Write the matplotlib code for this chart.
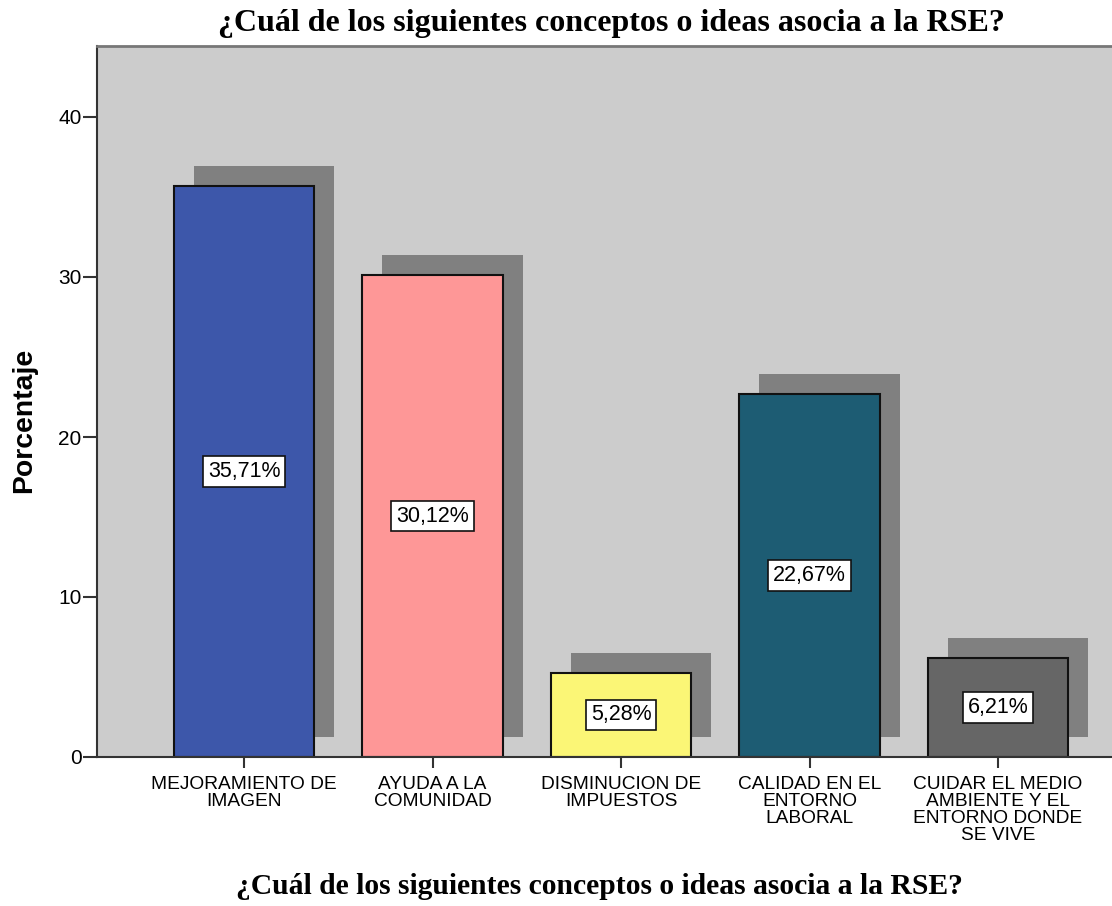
import matplotlib
matplotlib.use("Agg")
import matplotlib.pyplot as plt
from matplotlib.patches import Rectangle

categories = ["MEJORAMIENTO DE\nIMAGEN", "AYUDA A LA\nCOMUNIDAD", "DISMINUCION DE\nIMPUESTOS",
              "CALIDAD EN EL\nENTORNO\nLABORAL", "CUIDAR EL MEDIO\nAMBIENTE Y EL\nENTORNO DONDE\nSE VIVE"]
values = [35.71, 30.12, 5.28, 22.67, 6.21]
labels = ["35,71%", "30,12%", "5,28%", "22,67%", "6,21%"]
colors = ["#3D57AA", "#FE9797", "#FBF676", "#1D5C73", "#666666"]
yticks = [0, 10, 20, 30, 40]
title = "¿Cuál de los siguientes conceptos o ideas asocia a la RSE?"

fig = plt.figure(figsize=(11.12, 9.06), dpi=100)
ax = fig.add_axes([97/1112, 1-757/906, 1-97/1112, (757-46)/906])
ax.set_facecolor("#CCCCCC")

x = list(range(len(values)))
w = 0.748
dx = 20/188.5
dy = 20/16.0
for xi, v in zip(x, values):
    ax.add_patch(Rectangle((xi - w/2 + dx, dy), w, v, facecolor="#808080", edgecolor="none", zorder=1))
ax.bar(x, values, width=w, color=colors, edgecolor="#111111", linewidth=1.5, zorder=2)
for xi, v, lab in zip(x, values, labels):
    ax.text(xi, v/2, lab, ha="center", va="center", fontsize=15.5, family="Liberation Sans", zorder=3,
            bbox=dict(boxstyle="square,pad=0.22", facecolor="white", edgecolor="#111111", linewidth=1.2))

ax.set_xlim(-(244-97)/188.5, (1112-244)/188.5)
ax.set_ylim(0, (757-46)/16.0)
ax.set_yticks(yticks)
ax.set_yticklabels([str(t) for t in yticks], family="Liberation Sans", fontsize=15)
ax.set_xticks(x)
ax.set_xticklabels(categories, family="Liberation Sans", fontsize=13.8, linespacing=1.0, va="top")
ax.tick_params(axis="y", direction="out", length=10, width=1.5, color="#333333", pad=1)
ax.tick_params(axis="x", direction="out", length=8, width=1.5, color="#333333", pad=6)
for s in ["left", "bottom"]:
    ax.spines[s].set_linewidth(1.5)
    ax.spines[s].set_color("#333333")
ax.spines["right"].set_visible(False)
ax.spines["top"].set_color("#777777")
ax.spines["top"].set_linewidth(2)

fig.text(24/1112, 1-420/906, "Porcentaje", rotation=90, ha="center", va="center",
         family="Liberation Sans", fontweight="bold", fontsize=20.4)
fig.text(0.5495, 1-23/906, title, ha="center", va="center", family="Liberation Serif",
         fontweight="bold", fontsize=23)
fig.text(0.539, 1-886/906, title, ha="center", va="center", family="Liberation Serif",
         fontweight="bold", fontsize=21.3)

fig.savefig("out.png", dpi=100)
